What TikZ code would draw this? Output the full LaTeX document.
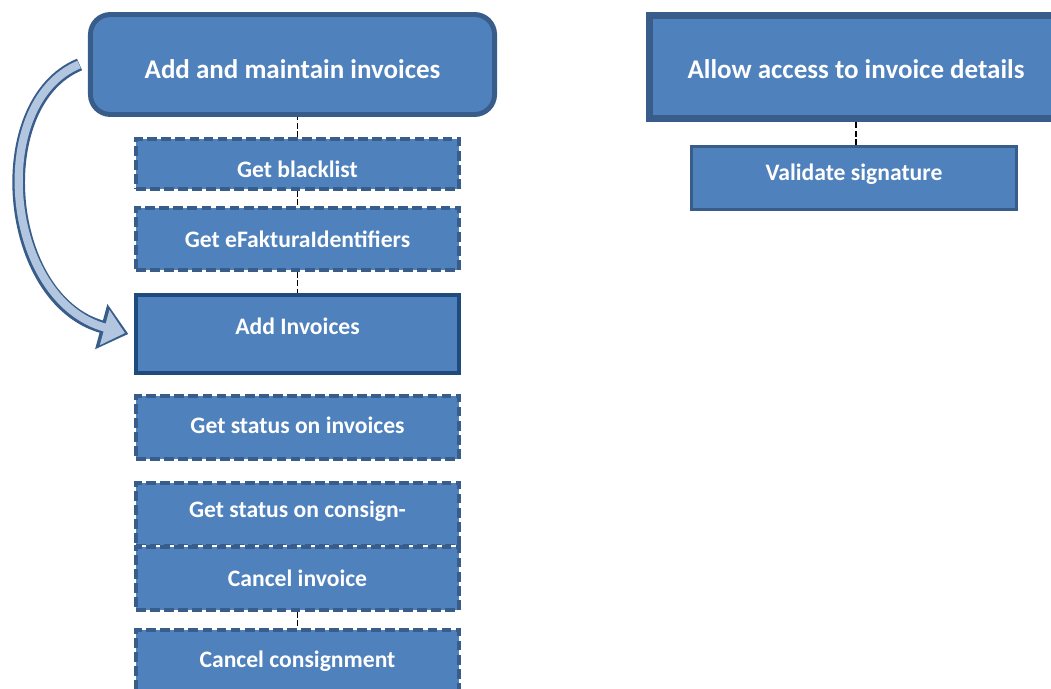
\documentclass[tikz,border=0pt]{standalone}
\usepackage{fontspec}
\setmainfont{Carlito}
\usetikzlibrary{arrows.meta, positioning}

\definecolor{taskblue}{HTML}{4F81BD}
\definecolor{taskedge}{HTML}{385D8A}
\definecolor{addedge}{HTML}{1F4A7E}
\definecolor{arrowfill}{HTML}{B3C6E0}

% shift a label up or down without changing its box
\newcommand{\lift}[2]{\raisebox{#1}[\height][\depth]{#2}}

\begin{document}
\begin{tikzpicture}[
        x=0.025cm, y=-0.025cm,
        every node/.style={font=\bfseries\fontsize{16.8}{19}\selectfont, text=white, inner sep=0pt},
        bigbox/.style={rectangle, fill=taskblue, draw=taskedge, font=\bfseries\fontsize{19.2}{22}\selectfont},
        taskbox/.style={rectangle, fill=taskblue, draw=taskedge, line width=2.8pt, minimum width=8.075cm,
            dash pattern=on 7pt off 3pt, preaction={draw=white, solid}},
        addbox/.style={rectangle, fill=taskblue, draw=addedge, line width=2.8pt, minimum width=8.075cm},
        link/.style={draw=black, line width=1.2pt, dash pattern=on 4pt off 2pt}
    ]
        \clip (0,0) rectangle (1051,689);

        % left column
        \node[bigbox, rounded corners=0.5cm, line width=3.5pt, minimum width=10.1cm, minimum height=2.5cm] (maintain) at (292.5,64.5) {\lift{-3.2pt}{Add and maintain invoices}};
        \node[taskbox, minimum height=1.25cm] (blacklist) at (297.5,164) {\lift{-3.5pt}{Get blacklist}};
        \node[taskbox, minimum height=1.55cm] (identifiers) at (297.5,239) {Get eFakturaIdentifiers};
        \node[addbox, minimum height=1.95cm] (addinv) at (297.5,334) {\lift{5.5pt}{Add Invoices}};
        \node[taskbox, minimum height=1.575cm] (statusinv) at (297.5,427.5) {\lift{1.5pt}{Get status on invoices}};
        \node[taskbox, minimum height=1.575cm] (statuscon) at (297.5,514.5) {\lift{2.5pt}{Get status on consign-}};
        \node[taskbox, minimum height=1.575cm] (cancelinv) at (297.5,578.5) {Cancel invoice};
        \node[taskbox, minimum height=1.575cm] (cancelcon) at (297.5,661.5) {Cancel consignment};

        % right column
        \node[bigbox, line width=5pt, minimum width=10.325cm, minimum height=2.575cm] (access) at (856,67) {\lift{-1.4pt}{Allow access to invoice details}};
        \node[rectangle, fill=taskblue, draw=taskedge, line width=2.2pt, minimum width=8.125cm, minimum height=1.575cm] (validate) at (854,178) {\lift{2.8pt}{Validate signature}};

        \draw[link] (blacklist.north) -- (blacklist.north |- maintain.south);
        \draw[link] (blacklist.south) -- (identifiers.north);
        \draw[link] (identifiers.south) -- (addinv.north);
        \draw[link] (cancelinv.south) -- (cancelcon.north);
        \draw[link] (validate.north -| access.south) -- (access.south);

        % curved block arrow
        \draw[draw=taskedge, line width=9pt, -{Triangle[length=20pt, width=32pt]}]
            ([xshift=-6pt]maintain.west) .. controls +(-92,38) and +(-125,-34) .. ([xshift=-4pt]addinv.west);
        \draw[draw=arrowfill, line width=5.8pt, shorten >=2.5pt, -{Triangle[length=15pt, width=25pt]}]
            ([xshift=-6.3pt]maintain.west) .. controls +(-92,38) and +(-125,-34) .. ([xshift=-4pt]addinv.west);
    \end{tikzpicture}
\end{document}
